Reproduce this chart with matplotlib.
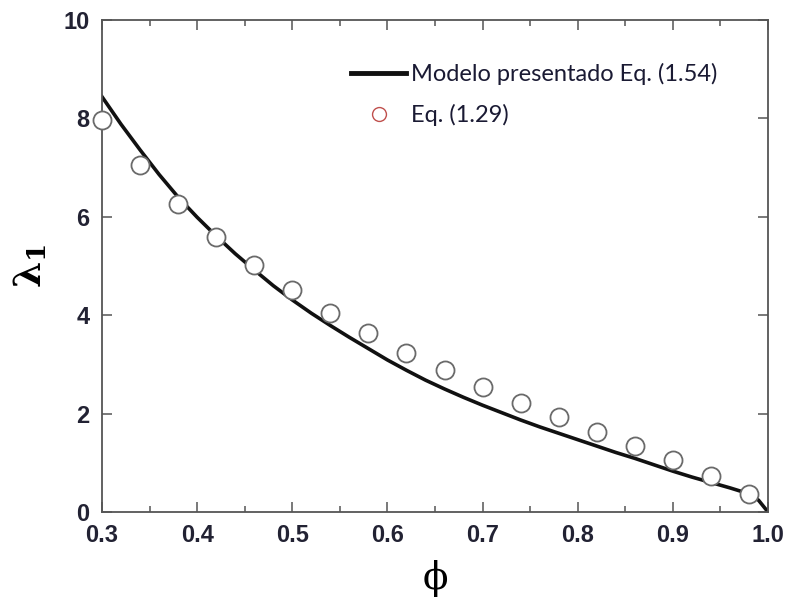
# Curva lambda_1 vs phi: modelo presentado contra Eq. (1.29)
import matplotlib.pyplot as plt
import numpy as np

# Datos
phi_modelo = [0.30, 0.32, 0.34, 0.36, 0.38, 0.40, 0.42, 0.44, 0.46, 0.48,
              0.50, 0.52, 0.54, 0.56, 0.58, 0.60, 0.62, 0.64, 0.66, 0.68,
              0.70, 0.72, 0.74, 0.76, 0.78, 0.80, 0.82, 0.84, 0.86, 0.88,
              0.90, 0.92, 0.94, 0.96, 0.98, 0.99, 1.00]
lam_modelo = [8.44, 7.88, 7.36, 6.86, 6.40, 5.99, 5.61, 5.25, 4.92, 4.60,
              4.31, 4.04, 3.79, 3.55, 3.32, 3.09, 2.88, 2.68, 2.50, 2.33,
              2.17, 2.02, 1.87, 1.73, 1.60, 1.47, 1.34, 1.21, 1.09, 0.96,
              0.83, 0.71, 0.60, 0.49, 0.37, 0.24, 0.00]

phi_eq = [0.30, 0.34, 0.38, 0.42, 0.46, 0.50, 0.54, 0.58, 0.62,
          0.66, 0.70, 0.74, 0.78, 0.82, 0.86, 0.90, 0.94, 0.98]
lam_eq = [7.97, 7.05, 6.26, 5.59, 5.02, 4.51, 4.04, 3.64, 3.23,
          2.89, 2.54, 2.22, 1.93, 1.63, 1.34, 1.05, 0.73, 0.37]

x_ticks = [0.3, 0.4, 0.5, 0.6, 0.7, 0.8, 0.9, 1.0]
y_ticks = [0, 2, 4, 6, 8, 10]

plt.rcParams['mathtext.fontset'] = 'dejavuserif'

fig = plt.figure(figsize=(7.89, 5.97), dpi=100)
ax = fig.add_axes([0.1293, 0.1424, 0.8441, 0.8241])

ax.plot(phi_modelo, lam_modelo, color='#111111', lw=2.6,
        label='Modelo presentado Eq. (1.54)', zorder=2)
ax.plot(phi_eq, lam_eq, ls='none', marker='o', ms=13, mfc='white',
        mec='#6a6a6a', mew=1.3, label='Eq. (1.29)', zorder=3, clip_on=False)

ax.set_xlim(0.3, 1.0)
ax.set_ylim(0, 10)
ax.set_xticks(x_ticks)
ax.set_xticklabels(['%.1f' % v for v in x_ticks])
ax.set_xticks(np.arange(0.35, 1.0, 0.1), minor=True)
ax.set_yticks(y_ticks)

for s in ax.spines.values():
    s.set_color('#555555')
    s.set_linewidth(1.3)

ax.tick_params(which='both', direction='in', top=True, right=True,
               color='#555555', width=1.1)
ax.tick_params(which='major', length=7, pad=9, labelsize=17)
ax.tick_params(which='minor', length=4)
for lab in ax.get_xticklabels() + ax.get_yticklabels():
    lab.set_fontfamily('Liberation Sans')
    lab.set_fontweight('bold')
    lab.set_color('#222233')

ax.set_xlabel('ϕ', fontsize=27, family='DejaVu Serif', labelpad=9)
ax.set_ylabel(r'$\mathbf{\lambda_1}$', fontsize=27, labelpad=10)

leg = ax.legend(loc='center left', bbox_to_anchor=(0.356, 0.848),
                frameon=False, borderpad=0, handlelength=2.35,
                handletextpad=0.2, labelspacing=0.8,
                prop={'family': 'Lato', 'size': 17})
leg.legend_handles[1].set_markeredgecolor('#c0504d')
leg.legend_handles[1].set_markersize(10)
leg.legend_handles[1].set_markeredgewidth(1.0)
leg.legend_handles[0].set_linewidth(3.5)
for t in leg.get_texts():
    t.set_color('#1a1a33')

fig.savefig('out.png', dpi=100)
